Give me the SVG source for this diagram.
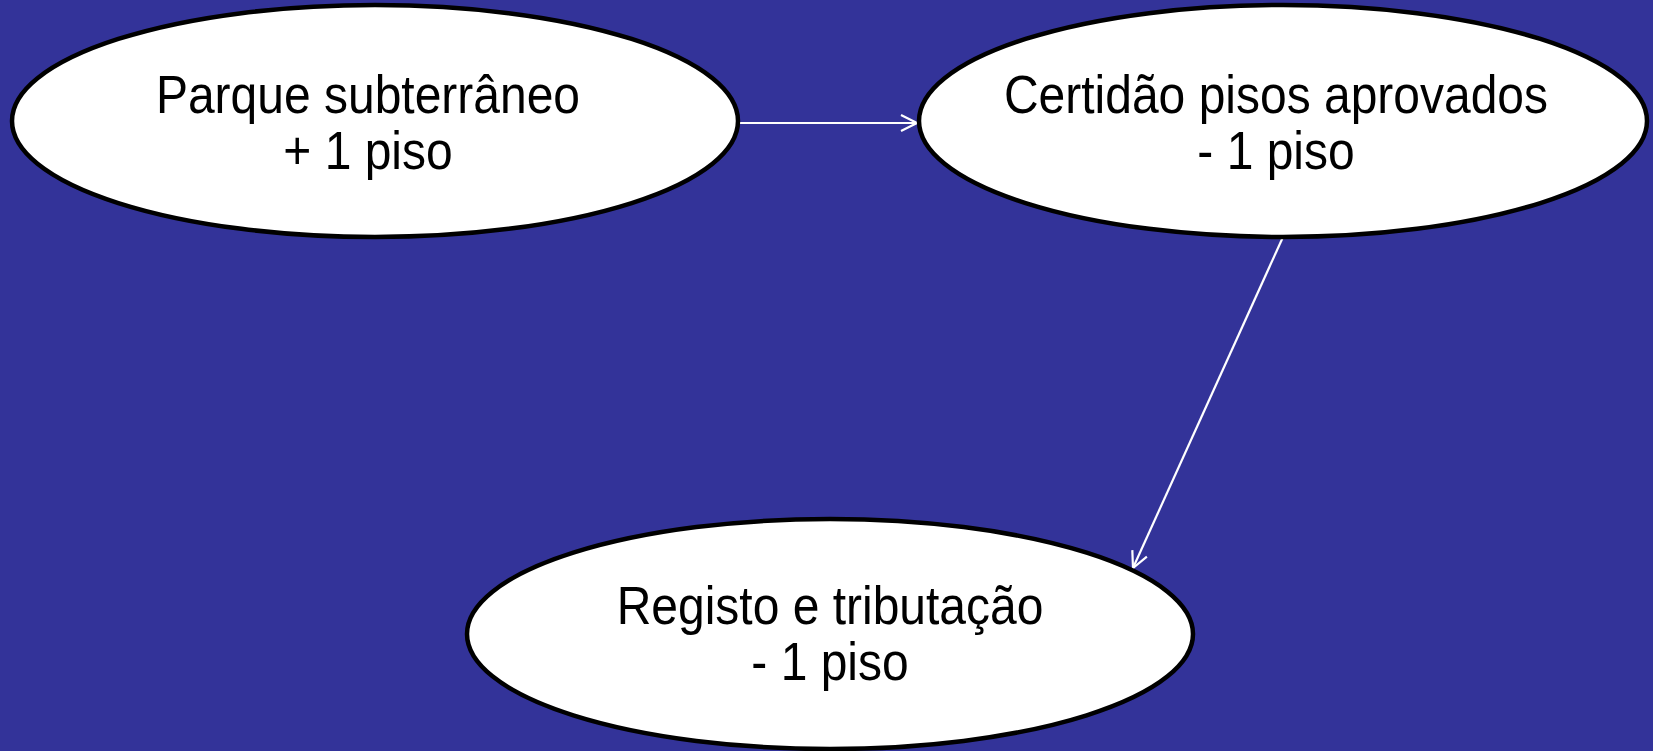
<svg xmlns="http://www.w3.org/2000/svg" width="1653" height="751" viewBox="0 0 1653 751">
<style>
.node ellipse{fill:#ffffff;stroke:#000000;stroke-width:4.5}
.node text{font-family:"Liberation Sans",Arial,sans-serif;font-size:48px;fill:#000000;text-anchor:middle}
.conn line{stroke:#ffffff;stroke-width:2.2;fill:none}
</style>
<defs>
<marker id="arr" viewBox="0 0 20 20" refX="18" refY="10" markerWidth="20" markerHeight="20" markerUnits="userSpaceOnUse" orient="auto">
<path d="M2,2 L18,10 L2,18" fill="none" stroke="#ffffff" stroke-width="2.2"/>
</marker>
</defs>
<rect width="1653" height="751" fill="#333399"/>
<g id="connectors" class="conn">
<line x1="740" y1="123" x2="917" y2="123" marker-end="url(#arr)"/>
<line x1="1283" y1="237" x2="1133" y2="568" marker-end="url(#arr)"/>
</g>
<g id="node-parque" class="node">
<ellipse cx="375" cy="121" rx="363" ry="116"/>
<text transform="translate(368,113) scale(1,1.1)">Parque subterrâneo</text>
<text transform="translate(368,169) scale(1,1.1)">+ 1 piso</text>
</g>
<g id="node-certidao" class="node">
<ellipse cx="1283" cy="121" rx="364" ry="116"/>
<text transform="translate(1276,113) scale(1,1.1)">Certidão pisos aprovados</text>
<text transform="translate(1276,169) scale(1,1.1)">- 1 piso</text>
</g>
<g id="node-registo" class="node">
<ellipse cx="830" cy="634" rx="363" ry="115"/>
<text transform="translate(830,624) scale(1,1.1)">Registo e tributação</text>
<text transform="translate(830,680) scale(1,1.1)">- 1 piso</text>
</g>
</svg>
